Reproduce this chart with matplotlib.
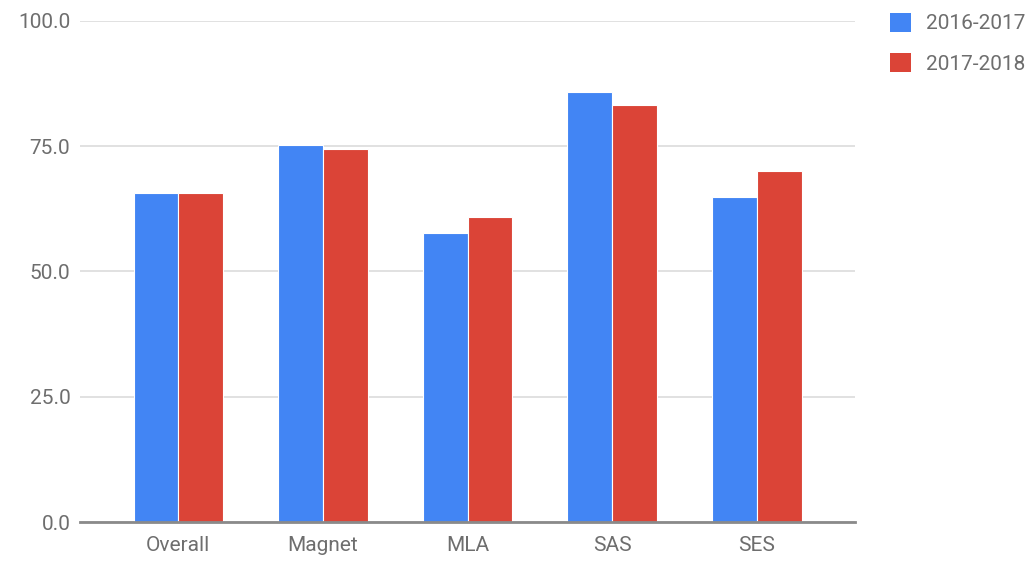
import matplotlib.pyplot as plt
import numpy as np
from matplotlib.patches import Patch

plt.rcParams['font.family'] = ['Roboto', 'DejaVu Sans']

categories = ["Overall", "Magnet", "MLA", "SAS", "SES"]
series_names = ["2016-2017", "2017-2018"]
values_2016 = [65.7, 75.2, 57.7, 85.8, 64.9]
values_2018 = [65.7, 74.4, 60.8, 83.3, 70.0]
colors = ["#4285F4", "#DB4437"]
y_ticks = [0, 25, 50, 75, 100]

fig = plt.figure(figsize=(10.34, 5.61), dpi=100)
ax = fig.add_axes([0.0774, 0.0695, 0.7496, 0.8931])

x = np.arange(len(categories))
width = 0.31
ax.bar(x - width / 2, values_2016, width, color=colors[0], edgecolor="white", linewidth=0.8, zorder=3)
ax.bar(x + width / 2, values_2018, width, color=colors[1], edgecolor="white", linewidth=0.8, zorder=3)

ax.set_xlim(-0.68, len(categories) - 1 + 0.68)
ax.set_ylim(0, 100)
ax.set_yticks(y_ticks)
ax.set_yticklabels([f"{t:.1f}" for t in y_ticks])
ax.set_xticks(x)
ax.set_xticklabels(categories)
ax.tick_params(axis="both", length=0, labelsize=15, labelcolor="#6e6e6e")
ax.tick_params(axis="y", pad=7)
ax.tick_params(axis="x", pad=10)

ax.grid(axis="y", color="#dcdcdc", linewidth=1.2, zorder=0)
for side in ["top", "right", "left"]:
    ax.spines[side].set_visible(False)
ax.spines["bottom"].set_color("#8a8a8a")
ax.spines["bottom"].set_linewidth(2)
ax.spines["bottom"].set_zorder(4)

handles = [Patch(facecolor=c, edgecolor="none") for c in colors]
fig.legend(handles, series_names, loc="upper left", bbox_to_anchor=(0.8607, 0.977),
           frameon=False, fontsize=15, labelcolor="#6e6e6e",
           borderpad=0, borderaxespad=0,
           handlelength=1.0, handleheight=1.0, handletextpad=0.72, labelspacing=0.95)

fig.savefig("out.png", dpi=100)
